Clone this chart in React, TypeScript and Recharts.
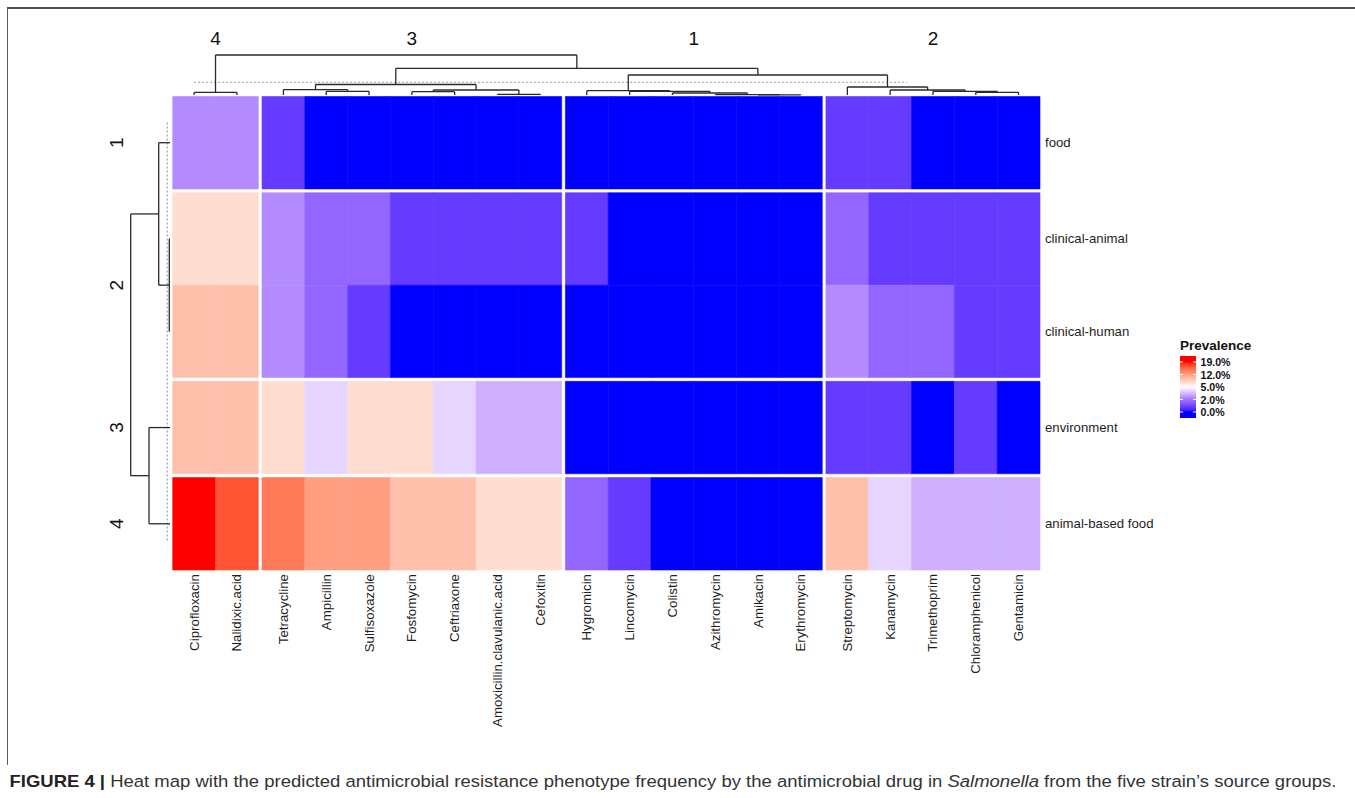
import React from 'react';
import { ComposedChart, XAxis, YAxis, Scatter, ReferenceArea, ReferenceLine } from 'recharts';

// ---------- data ----------
const drugs = [
  'Ciprofloxacin', 'Nalidixic.acid', 'Tetracycline', 'Ampicillin', 'Sulfisoxazole', 'Fosfomycin',
  'Ceftriaxone', 'Amoxicillin.clavulanic.acid', 'Cefoxitin', 'Hygromicin', 'Lincomycin', 'Colistin',
  'Azithromycin', 'Amikacin', 'Erythromycin', 'Streptomycin', 'Kanamycin', 'Trimethoprim',
  'Chloramphenicol', 'Gentamicin',
];
const drugClusters = ['4', '4', '3', '3', '3', '3', '3', '3', '3', '1', '1', '1', '1', '1', '1', '2', '2', '2', '2', '2'];

const sources = ['food', 'clinical-animal', 'clinical-human', 'environment', 'animal-based food'];
const sourceClusters = ['1', '2', '2', '3', '4'];

// prevalence (%) of predicted resistance, one array per source, in drug order
const prevalenceFood = [2.5, 2.5, 0.8, 0, 0, 0, 0, 0, 0, 0, 0, 0, 0, 0, 0, 0.8, 0.8, 0, 0, 0];
const prevalenceClinicalAnimal = [7.5, 7.5, 2.5, 1.7, 1.7, 0.8, 0.8, 0.8, 0.8, 0.8, 0, 0, 0, 0, 0, 1.7, 0.8, 0.8, 0.8, 0.8];
const prevalenceClinicalHuman = [9.6, 9.6, 2.5, 1.7, 0.8, 0, 0, 0, 0, 0, 0, 0, 0, 0, 0, 2.5, 1.7, 1.7, 0.8, 0.8];
const prevalenceEnvironment = [9.6, 9.6, 7.5, 4.1, 7.5, 7.5, 4.1, 3.3, 3.3, 0, 0, 0, 0, 0, 0, 0.8, 0.8, 0, 0.8, 0];
const prevalenceAnimalBasedFood = [19, 16.5, 14.4, 12, 12, 9.6, 9.6, 7.5, 7.5, 1.7, 0.8, 0, 0, 0, 0, 9.6, 4.1, 3.3, 3.3, 3.3];
const prevalenceBySource = [
  prevalenceFood, prevalenceClinicalAnimal, prevalenceClinicalHuman, prevalenceEnvironment, prevalenceAnimalBasedFood,
];

// hierarchical clustering trees: leaf = index, merge = [left, right, height]
type Tree = number | [Tree, Tree, number];
const drugTree: Tree = [
  [0, 1, 2.7],
  [
    [[2, [3, 4, 3.7], 5.3], [[5, 6, 3.3], [7, 8, 0.7], 5], 10.5],
    [
      [9, [10, [11, [12, [13, 14, 0.2], 0.3], 2], 3.7], 4.3],
      [15, [16, [17, [18, 19, 2.7], 3.7], 5], 8],
      20,
    ],
    26.7,
  ],
  40,
];
const sourceTree: Tree = [[0, [1, 2, 0.7], 11.3], [3, 4, 21], 39.3];
const drugCut = { height: 12.7, from: 0.5, to: 17.15 };
const sourceCut = { height: 2.7, from: 0.28, to: 4.82 };

const legendTicks = [0, 2, 5, 12, 19];
const colourStops = [
  { value: 0, colour: '#0000FF' },
  { value: 5, colour: '#FFFFFF' },
  { value: 19, colour: '#FF0000' },
];

const captionBold = 'FIGURE 4 | ';
const captionStart = 'Heat map with the predicted antimicrobial resistance phenotype frequency by the antimicrobial drug in ';
const captionItalic = 'Salmonella';
const captionEnd = ' from the five strain\u2019s source groups.';

// ---------- layout ----------
const PAGE_W = 1355;
const PAGE_H = 798;
const HM = { left: 172.7, right: 1040, top: 96.5, bottom: 570 };
const COL_GAP = 0.086;
const ROW_GAP = 0.041;
const TREE_MAX = 40;
const TOP_TREE = { top: 55, bottom: 95 };
const LEFT_TREE = { left: 130, right: 170 };
const AXIS_BAND = 30;
const FONT = '"Liberation Sans", Arial, Helvetica, sans-serif';
const TREE_STROKE = '#2a2a2a';

// ---------- colour scale (interpolated in CIE Lab) ----------
const srgbToLin = (v: number) => {
  const c = v / 255;
  return c <= 0.04045 ? c / 12.92 : Math.pow((c + 0.055) / 1.055, 2.4);
};
const linToSrgb = (v: number) => {
  const c = Math.max(0, Math.min(1, v));
  const s = c <= 0.0031308 ? 12.92 * c : 1.055 * Math.pow(c, 1 / 2.4) - 0.055;
  return Math.round(s * 255);
};
const EPS = 216 / 24389;
const KAPPA = 24389 / 27;
function hexToLab(hex: string): number[] {
  const r = srgbToLin(parseInt(hex.slice(1, 3), 16));
  const g = srgbToLin(parseInt(hex.slice(3, 5), 16));
  const b = srgbToLin(parseInt(hex.slice(5, 7), 16));
  const X = (0.4124564 * r + 0.3575761 * g + 0.1804375 * b) / 0.95047;
  const Y = 0.2126729 * r + 0.7151522 * g + 0.072175 * b;
  const Z = (0.0193339 * r + 0.119192 * g + 0.9503041 * b) / 1.08883;
  const f = (t: number) => (t > EPS ? Math.cbrt(t) : (KAPPA * t + 16) / 116);
  const fx = f(X), fy = f(Y), fz = f(Z);
  return [116 * fy - 16, 500 * (fx - fy), 200 * (fy - fz)];
}
function labToHex(lab: number[]): string {
  const [L, a, b] = lab;
  const fy = (L + 16) / 116;
  const fx = fy + a / 500;
  const fz = fy - b / 200;
  const inv = (t: number) => (t * t * t > EPS ? t * t * t : (116 * t - 16) / KAPPA);
  const X = inv(fx) * 0.95047;
  const Y = L > KAPPA * EPS ? fy * fy * fy : L / KAPPA;
  const Z = inv(fz) * 1.08883;
  const r = 3.2404542 * X - 1.5371385 * Y - 0.4985314 * Z;
  const g = -0.969266 * X + 1.8760108 * Y + 0.041556 * Z;
  const bl = 0.0556434 * X - 0.2040259 * Y + 1.0572252 * Z;
  const h = (v: number) => linToSrgb(v).toString(16).padStart(2, '0');
  return `#${h(r)}${h(g)}${h(bl)}`;
}
const stopLabs = colourStops.map((s) => hexToLab(s.colour));
function prevalenceColour(v: number): string {
  const last = colourStops.length - 1;
  if (v <= colourStops[0].value) return colourStops[0].colour;
  if (v >= colourStops[last].value) return colourStops[last].colour;
  let k = 0;
  while (v > colourStops[k + 1].value) k++;
  const t = (v - colourStops[k].value) / (colourStops[k + 1].value - colourStops[k].value);
  const a = stopLabs[k], b = stopLabs[k + 1];
  return labToHex([0, 1, 2].map((j) => a[j] + (b[j] - a[j]) * t));
}

// ---------- derived positions (data units) ----------
function runIndex(clusters: string[]): number[] {
  let g = 0;
  return clusters.map((c, i) => {
    if (i > 0 && c !== clusters[i - 1]) g++;
    return g;
  });
}
const colRun = runIndex(drugClusters);
const rowRun = runIndex(sourceClusters);
const colStart = drugs.map((_, i) => i + colRun[i] * COL_GAP);
const rowStart = sources.map((_, i) => i + rowRun[i] * ROW_GAP);
const colCenters = colStart.map((s) => s + 0.5);
const rowCenters = rowStart.map((s) => s + 0.5);
const X_MAX = drugs.length + colRun[colRun.length - 1] * COL_GAP;
const Y_MAX = sources.length + rowRun[rowRun.length - 1] * ROW_GAP;

function runGroups(clusters: string[], starts: number[]) {
  const out: { label: string; center: number }[] = [];
  let i = 0;
  while (i < clusters.length) {
    let j = i;
    while (j + 1 < clusters.length && clusters[j + 1] === clusters[i]) j++;
    out.push({ label: clusters[i], center: (starts[i] + starts[j] + 1) / 2 });
    i = j + 1;
  }
  return out;
}
const colGroups = runGroups(drugClusters, colStart);
const rowGroups = runGroups(sourceClusters, rowStart);

const heatmapCells = sources.flatMap((src, r) =>
  drugs.map((drug, c) => {
    const value = prevalenceBySource[r][c];
    return {
      key: `${src}-${drug}`,
      x: colCenters[c],
      y: rowCenters[r],
      x1: colStart[c],
      x2: colStart[c] + 1,
      y1: rowStart[r],
      y2: rowStart[r] + 1,
      value,
      fill: prevalenceColour(value),
    };
  }),
);

type Pt = { p: number; h: number };
function treeSegments(node: Tree, leafPos: number[], segs: Pt[][]): Pt {
  if (typeof node === 'number') return { p: leafPos[node], h: 0 };
  const [l, r, h] = node;
  const L = treeSegments(l, leafPos, segs);
  const R = treeSegments(r, leafPos, segs);
  segs.push([{ p: L.p, h: L.h }, { p: L.p, h }]);
  segs.push([{ p: R.p, h: R.h }, { p: R.p, h }]);
  segs.push([{ p: L.p, h }, { p: R.p, h }]);
  return { p: (L.p + R.p) / 2, h };
}
const drugSegs: Pt[][] = [];
treeSegments(drugTree, colCenters, drugSegs);
const sourceSegs: Pt[][] = [];
treeSegments(sourceTree, rowCenters, sourceSegs);

const nearest = (arr: number[], v: number) => {
  let best = 0;
  arr.forEach((a, i) => {
    if (Math.abs(a - v) < Math.abs(arr[best] - v)) best = i;
  });
  return best;
};

// ---------- ticks ----------
const colGroupCenters = colGroups.map((g) => g.center);
const rowGroupCenters = rowGroups.map((g) => g.center);

function DrugTick(props: any) {
  const { x, y, payload } = props;
  const i = nearest(colCenters, payload.value);
  const ty = y + 4;
  return (
    <text x={x} y={ty} transform={`rotate(-90 ${x} ${ty})`} textAnchor="end" dominantBaseline="central"
      fontSize={13.3} fill="#1e1e1e" fontFamily={FONT}>
      {drugs[i]}
    </text>
  );
}
function SourceTick(props: any) {
  const { x, y, payload } = props;
  const i = nearest(rowCenters, payload.value);
  return (
    <text x={x + 5} y={y} dominantBaseline="central" fontSize={13.2} fill="#1e1e1e" fontFamily={FONT}>
      {sources[i]}
    </text>
  );
}
function ColGroupTick(props: any) {
  const { x, y, payload } = props;
  const i = nearest(colGroupCenters, payload.value);
  return (
    <text x={x} y={y - 10} textAnchor="middle" fontSize={19} fill="#111" fontFamily={FONT}>
      {colGroups[i].label}
    </text>
  );
}
function RowGroupTick(props: any) {
  const { x, y, payload } = props;
  const i = nearest(rowGroupCenters, payload.value);
  const tx = x - 13;
  return (
    <text x={tx} y={y} transform={`rotate(-90 ${tx} ${y})`} textAnchor="middle" dominantBaseline="central"
      fontSize={19} fill="#111" fontFamily={FONT}>
      {rowGroups[i].label}
    </text>
  );
}

const layer: React.CSSProperties = { position: 'absolute', left: 0, top: 0 };
const hiddenShape = () => <g />;

function PrevalenceLegend() {
  const barX = 10, barW = 16, barTop = 26, barBottom = 88;
  const tickTop = 32, tickBottom = 82;
  const step = (tickBottom - tickTop) / (legendTicks.length - 1);
  const tickY = legendTicks.map((_, i) => tickBottom - i * step);
  const samples = 40;
  const stops = Array.from({ length: samples + 1 }, (_, k) => {
    const pos = k / samples; // 0 at bottom tick, 1 at top tick
    const seg = Math.min(legendTicks.length - 2, Math.floor(pos * (legendTicks.length - 1)));
    const local = pos * (legendTicks.length - 1) - seg;
    const v = legendTicks[seg] + (legendTicks[seg + 1] - legendTicks[seg]) * local;
    return { offset: pos, colour: prevalenceColour(v) };
  });
  return (
    <svg width={100} height={100} style={{ position: 'absolute', left: 1170, top: 330 }}>
      <defs>
        <linearGradient id="prevGrad" gradientUnits="userSpaceOnUse" x1={0} y1={tickBottom} x2={0} y2={tickTop}>
          {stops.map((s, k) => (
            <stop key={k} offset={s.offset} stopColor={s.colour} />
          ))}
        </linearGradient>
      </defs>
      <text x={barX} y={20} fontSize={13.5} fontWeight="bold" fill="#111" fontFamily={FONT}>Prevalence</text>
      <rect x={barX} y={barTop} width={barW} height={barBottom - barTop} fill="url(#prevGrad)" />
      {legendTicks.map((t, i) => (
        <g key={t}>
          <line x1={barX} x2={barX + 3} y1={tickY[i]} y2={tickY[i]} stroke="#fff" strokeWidth={1} />
          <line x1={barX + barW - 3} x2={barX + barW} y1={tickY[i]} y2={tickY[i]} stroke="#fff" strokeWidth={1} />
          <text x={barX + barW + 4.5} y={tickY[i]} dominantBaseline="central" fontSize={10.6} fontWeight="bold"
            fill="#111" fontFamily={FONT}>
            {`${t.toFixed(1)}%`}
          </text>
        </g>
      ))}
    </svg>
  );
}

export default function App() {
  return (
    <div style={{ position: 'absolute', left: 0, top: 0, width: PAGE_W, height: PAGE_H, background: '#fff', overflow: 'hidden' }}>
      {/* figure frame */}
      <div style={{ position: 'absolute', left: 7, top: 7, width: PAGE_W - 7, height: 758, borderTop: '2px solid #4d4d4d', borderLeft: '1.5px solid #5a5a5a', boxSizing: 'border-box' }} />

      {/* heat map body */}
      <div style={layer}>
        <ComposedChart width={PAGE_W} height={PAGE_H} data={heatmapCells}
          margin={{ top: HM.top, right: PAGE_W - HM.right - AXIS_BAND, bottom: PAGE_H - HM.bottom - AXIS_BAND, left: HM.left }}>
          <XAxis type="number" dataKey="x" domain={[0, X_MAX]} allowDataOverflow ticks={colCenters} interval={0}
            height={AXIS_BAND} tickSize={0} tickMargin={0} axisLine={false} tickLine={false} tick={<DrugTick />} />
          <YAxis type="number" dataKey="y" domain={[0, Y_MAX]} allowDataOverflow reversed orientation="right"
            ticks={rowCenters} interval={0} width={AXIS_BAND} tickSize={0} tickMargin={0} axisLine={false}
            tickLine={false} tick={<SourceTick />} />
          {heatmapCells.map((c) => (
            <ReferenceArea key={c.key} x1={c.x1} x2={c.x2} y1={c.y1} y2={c.y2} fill={c.fill} fillOpacity={1}
              stroke={c.fill} strokeWidth={0.6} ifOverflow="visible" />
          ))}
          <Scatter data={heatmapCells} dataKey="y" shape={hiddenShape} isAnimationActive={false} legendType="none" />
        </ComposedChart>
      </div>

      {/* column dendrogram */}
      <div style={layer}>
        <ComposedChart width={PAGE_W} height={PAGE_H}
          data={colCenters.map((x) => ({ x, y: 0 }))}
          margin={{ top: TOP_TREE.top - AXIS_BAND, right: PAGE_W - HM.right, bottom: PAGE_H - TOP_TREE.bottom, left: HM.left }}>
          <XAxis type="number" dataKey="x" domain={[0, X_MAX]} allowDataOverflow orientation="top"
            ticks={colGroupCenters} interval={0} height={AXIS_BAND} tickSize={0} tickMargin={0} axisLine={false}
            tickLine={false} tick={<ColGroupTick />} />
          <YAxis type="number" dataKey="y" domain={[0, TREE_MAX]} allowDataOverflow hide />
          <ReferenceLine segment={[{ x: drugCut.from, y: drugCut.height }, { x: drugCut.to, y: drugCut.height }]}
            stroke="#9a9a9a" strokeWidth={1.1} strokeDasharray="2 2" ifOverflow="visible" />
          {drugSegs.map((s, k) => (
            <ReferenceLine key={k} segment={[{ x: s[0].p, y: s[0].h }, { x: s[1].p, y: s[1].h }]}
              stroke={TREE_STROKE} strokeWidth={1.3} ifOverflow="visible" />
          ))}
          <Scatter dataKey="y" shape={hiddenShape} isAnimationActive={false} legendType="none" />
        </ComposedChart>
      </div>

      {/* row dendrogram */}
      <div style={layer}>
        <ComposedChart width={PAGE_W} height={PAGE_H}
          data={rowCenters.map((y) => ({ x: 0, y }))}
          margin={{ top: HM.top, right: PAGE_W - LEFT_TREE.right, bottom: PAGE_H - HM.bottom, left: LEFT_TREE.left - AXIS_BAND }}>
          <XAxis type="number" dataKey="x" domain={[0, TREE_MAX]} allowDataOverflow reversed hide />
          <YAxis type="number" dataKey="y" domain={[0, Y_MAX]} allowDataOverflow reversed orientation="left"
            ticks={rowGroupCenters} interval={0} width={AXIS_BAND} tickSize={0} tickMargin={0} axisLine={false}
            tickLine={false} tick={<RowGroupTick />} />
          <ReferenceLine segment={[{ x: sourceCut.height, y: sourceCut.from }, { x: sourceCut.height, y: sourceCut.to }]}
            stroke="#9a9a9a" strokeWidth={1.1} strokeDasharray="2 2" ifOverflow="visible" />
          {sourceSegs.map((s, k) => (
            <ReferenceLine key={k} segment={[{ x: s[0].h, y: s[0].p }, { x: s[1].h, y: s[1].p }]}
              stroke={TREE_STROKE} strokeWidth={1.3} ifOverflow="visible" />
          ))}
          <Scatter dataKey="y" shape={hiddenShape} isAnimationActive={false} legendType="none" />
        </ComposedChart>
      </div>

      <PrevalenceLegend />

      {/* caption */}
      <svg width={PAGE_W} height={30} style={{ position: 'absolute', left: 0, top: 768 }}>
        <text x={9.5} y={19} fontSize={16.3} fill="#333" fontFamily={FONT} textLength={1327} lengthAdjust="spacingAndGlyphs">
          <tspan fontWeight="bold" fill="#222">{captionBold}</tspan>
          <tspan>{captionStart}</tspan>
          <tspan fontStyle="italic">{captionItalic}</tspan>
          <tspan>{captionEnd}</tspan>
        </text>
      </svg>
    </div>
  );
}
